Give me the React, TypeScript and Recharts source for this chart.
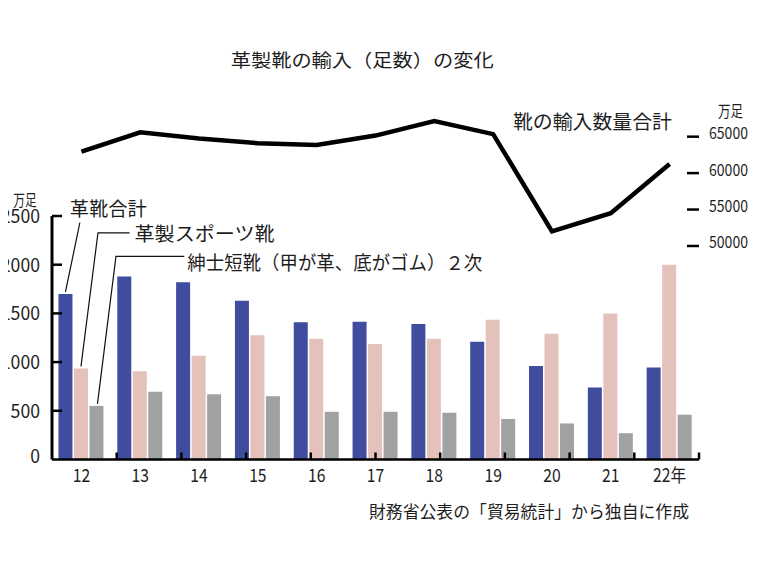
import React from 'react';
import { ComposedChart, Bar, Line, XAxis, YAxis, ReferenceLine, LabelList } from 'recharts';

// ---- data ----
const years = ['12', '13', '14', '15', '16', '17', '18', '19', '20', '21', '22年'];
const leatherTotal = [1700, 1880, 1820, 1630, 1410, 1415, 1390, 1210, 960, 740, 945];
const leatherSports = [935, 905, 1065, 1275, 1240, 1185, 1240, 1435, 1290, 1500, 2000];
const mensShoes = [550, 695, 670, 650, 490, 490, 480, 415, 370, 270, 460];
const allShoesTotal = [62950, 65600, 64750, 64100, 63850, 65150, 67150, 65350, 52000, 54500, 61250];
const leftTicks = [0, 500, 1000, 1500, 2000, 2500];
const rightTicks = [50000, 55000, 60000, 65000];
const boundaries = [1, 2, 3, 4, 5, 6, 7, 8, 9, 10];

const seriesNames = ['革靴合計', '革製スポーツ靴', '紳士短靴（甲が革、底がゴム）２次', '靴の輸入数量合計'];

const data = years.map((y, i) => ({
  year: y,
  a: leatherTotal[i],
  b: leatherSports[i],
  c: mensShoes[i],
  total: allShoesTotal[i],
}));

const FONT = '"Noto Sans CJK JP", "Noto Sans", sans-serif';
const INK = '#1e1e1e';
const W = 760;
const H = 570;
const MARGIN = { top: 118.6, right: 9, bottom: 80.5, left: 8 };
const LEFT_W = 44;
const RIGHT_W = 52;

const LeftTick = (props: any) => {
  const { x, y, payload } = props;
  const v = payload.value;
  const s = String(v);
  const len = s.length * 9.8;
  return (
    <g>
      {v > 0 && <line x1={x + 12} x2={x + 22} y1={y} y2={y} stroke="#000" strokeWidth={2.5} />}
      <text
        x={x - len}
        y={y + (v === 0 ? 3 : 7)}
        textAnchor="start"
        fontSize={18.5}
        fontFamily={FONT}
        fill={INK}
        textLength={len}
        lengthAdjust="spacingAndGlyphs"
      >
        {s}
      </text>
    </g>
  );
};

const RightTick = (props: any) => {
  const { x, y, payload } = props;
  return (
    <g>
      <line x1={x - 22} x2={x - 10} y1={y} y2={y} stroke="#000" strokeWidth={2.5} />
      <text x={x} y={y + 2.5} fontSize={16} fontFamily={FONT} fill={INK} textLength={39} lengthAdjust="spacingAndGlyphs">
        {payload.value}
      </text>
    </g>
  );
};

const XTick = (props: any) => {
  const { x, y, payload } = props;
  return (
    <g transform={`translate(${x},${y + 22}) scale(0.85,1)`}>
      <text x={0} y={0} textAnchor="middle" fontSize={18.5} fontFamily={FONT} fill={INK}>
        {payload.value}
      </text>
    </g>
  );
};

const makeLeader =
  (text: string, pts: [number, number][], tdx: number, tdy: number, len: number) =>
  (props: any) => {
    const vb = props.viewBox && props.viewBox.width !== undefined ? props.viewBox : props;
    const { x, y, width } = vb;
    if (props.index !== 0 || x === undefined) return null;
    const cx = x + width / 2;
    const path = pts.map((p, i) => `${i === 0 ? 'M' : 'L'}${cx + p[0]},${y + p[1]}`).join(' ');
    return (
      <g>
        <path d={path} fill="none" stroke="#111" strokeWidth={1.2} />
        <text x={cx + tdx} y={y + tdy} fontSize={19} fontFamily={FONT} fill={INK} textLength={len} lengthAdjust="spacingAndGlyphs">
          {text}
        </text>
      </g>
    );
  };

const leaderA = makeLeader(seriesNames[0], [[0, -2], [14.4, -71.3]], 4.4, -77.5, 77);
const leaderB = makeLeader(seriesNames[1], [[0, -2], [17, -135.6], [48.6, -135.6]], 53.6, -127.2, 140);
const leaderC = makeLeader(seriesNames[2], [[1, -2], [19.5, -149.5], [87.8, -149.5]], 90.8, -135.6, 295);

export default function App() {
  return (
    <div style={{ position: 'relative', left: -8, top: -8, width: W, height: H }}>
      <ComposedChart
        width={W}
        height={H}
        data={data}
        margin={MARGIN}
        barCategoryGap="11%"
        barGap={1.5}
      >
        <XAxis
          xAxisId="cat"
          dataKey="year"
          height={30}
          interval={0}
          axisLine={{ stroke: '#000', strokeWidth: 2.5 }}
          tickLine={false}
          tickSize={0}
          tickMargin={0}
          tick={XTick}
        />
        <XAxis xAxisId="frac" type="number" domain={[0, 11]} hide />
        <YAxis
          yAxisId="left"
          orientation="left"
          width={LEFT_W}
          type="number"
          domain={[0, 3500]}
          ticks={leftTicks}
          interval={0}
          axisLine={false}
          tickLine={false}
          tickSize={0}
          tickMargin={12}
          tick={LeftTick}
        />
        <YAxis
          yAxisId="right"
          orientation="right"
          width={RIGHT_W}
          type="number"
          domain={[20700, 67480]}
          ticks={rightTicks}
          interval={0}
          axisLine={false}
          tickLine={false}
          tickSize={0}
          tickMargin={10}
          tick={RightTick}
        />
        <Bar xAxisId="cat" yAxisId="left" dataKey="a" name={seriesNames[0]} fill="#404C9E" isAnimationActive={false}>
          <LabelList dataKey="a" content={leaderA} />
        </Bar>
        <Bar xAxisId="cat" yAxisId="left" dataKey="b" name={seriesNames[1]} fill="#E5C1BB" isAnimationActive={false}>
          <LabelList dataKey="b" content={leaderB} />
        </Bar>
        <Bar xAxisId="cat" yAxisId="left" dataKey="c" name={seriesNames[2]} fill="#A0A2A1" isAnimationActive={false}>
          <LabelList dataKey="c" content={leaderC} />
        </Bar>
        {boundaries.map((b) => (
          <ReferenceLine
            key={`b${b}`}
            xAxisId="frac"
            yAxisId="left"
            segment={[{ x: b, y: 0 }, { x: b, y: 72 }]}
            stroke="#000"
            strokeWidth={2.5}
          />
        ))}
        <ReferenceLine
          xAxisId="frac"
          yAxisId="left"
          segment={[{ x: 0, y: 0 }, { x: 0, y: 2500 }]}
          stroke="#000"
          strokeWidth={3}
        />
        <ReferenceLine
          xAxisId="frac"
          yAxisId="right"
          segment={[{ x: 11, y: 50000 }, { x: 11, y: 65000 }]}
          stroke="#000"
          strokeWidth={2.5}
        />
        <Line
          xAxisId="cat"
          yAxisId="right"
          dataKey="total"
          name={seriesNames[3]}
          type="linear"
          stroke="#000"
          strokeWidth={4.5}
          dot={false}
          activeDot={false}
          isAnimationActive={false}
        />
      </ComposedChart>
      <svg
        width={W}
        height={H}
        style={{ position: 'absolute', left: 0, top: 0, pointerEvents: 'none' }}
      >
        <text x={230.7} y={67.2} fontSize={18} fontFamily={FONT} fill={INK} textLength={263} lengthAdjust="spacingAndGlyphs">
          革製靴の輸入（足数）の変化
        </text>
        <text x={513} y={128.7} fontSize={19.5} fontFamily={FONT} fill={INK} textLength={159} lengthAdjust="spacingAndGlyphs">
          {seriesNames[3]}
        </text>
        <text x={718} y={117} fontSize={16} fontFamily={FONT} fill={INK} textLength={25} lengthAdjust="spacingAndGlyphs">
          万足
        </text>
        <text x={13.3} y={205.5} fontSize={15.5} fontFamily={FONT} fill={INK} textLength={23.4} lengthAdjust="spacingAndGlyphs">
          万足
        </text>
        <text x={369} y={518} fontSize={17} fontFamily={FONT} fill={INK} textLength={320} lengthAdjust="spacingAndGlyphs">
          財務省公表の「貿易統計」から独自に作成
        </text>
      </svg>
    </div>
  );
}
